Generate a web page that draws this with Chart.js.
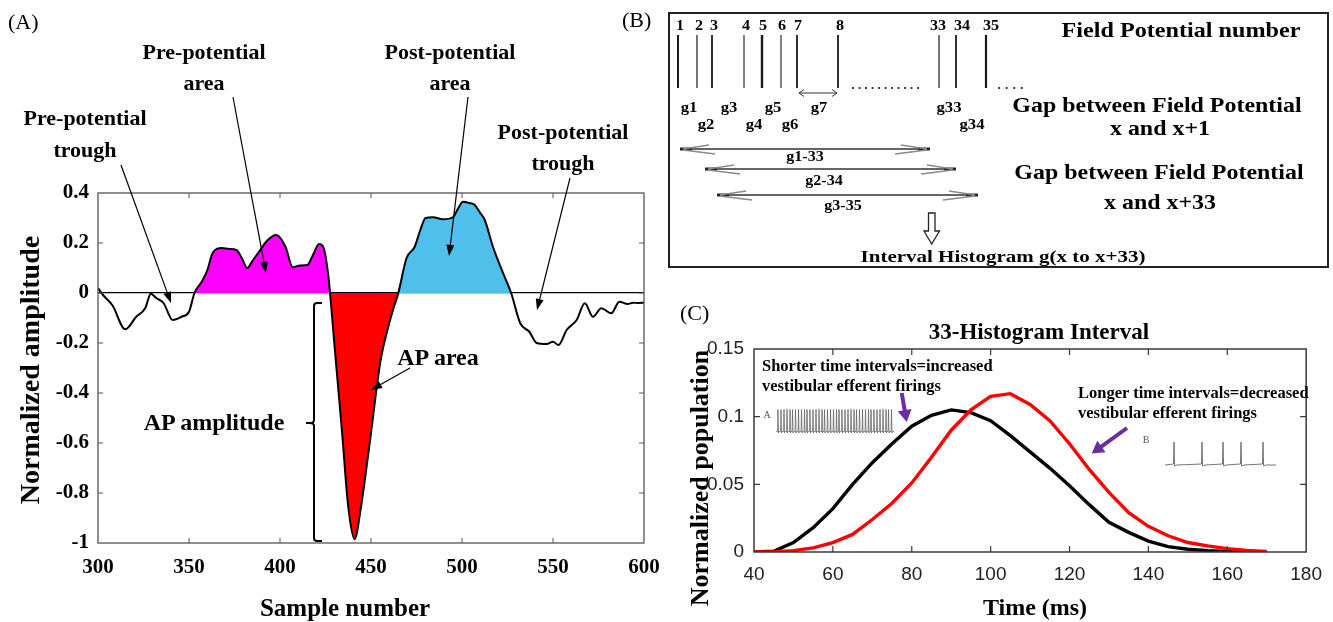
<!DOCTYPE html>
<html><head><meta charset="utf-8"><title>Field potential analysis</title>
<script src="https://cdn.jsdelivr.net/npm/chart.js@4.4.1/dist/chart.umd.min.js"></script>
<style>
html,body{margin:0;padding:0;background:#fff;}
#page{position:relative;width:1333px;height:622px;overflow:hidden;background:#fff;}
#page canvas{position:absolute;left:0;top:0;}
#overlay{position:absolute;left:0;top:0;}
.t{position:absolute;white-space:nowrap;font-family:"Liberation Serif","Times New Roman",serif;line-height:1;color:#000;}
#boxB{position:absolute;left:668px;top:12px;width:661px;height:256px;border:2.5px solid #222;box-sizing:border-box;}
</style></head>
<body><div id="page">
<div id="boxB"></div>
<canvas id="chartA" width="1333" height="622"></canvas>
<canvas id="chartB" width="1333" height="622"></canvas>
<canvas id="chartC" width="1333" height="622"></canvas>
<svg id="overlay" width="1333" height="622" xmlns="http://www.w3.org/2000/svg"></svg>
</div>
<script>
// ---------- Panel A data ----------
const apSamples = [300,303,308,315,321,326,329,332,336,341,346,350,353,357,360,363,368,372,376,379,382,385,388,393,398,403,407,411,415,418,421.5,424,426,427.5,430,434,437.5,441,444,449.5,455,459.5,462,465,469.5,474,477,480,484,489.5,495,498,500.5,504,507,510,512.5,517,523,527,532,537,541,546.5,550,553,557.5,563,567.5,572,576.5,582,586.5,591,594,597,600];
const apAmplitude = [0.02,-0.01,-0.05,-0.145,-0.095,-0.06,-0.003,-0.02,-0.04,-0.108,-0.095,-0.075,0,0.045,0.09,0.16,0.18,0.176,0.172,0.14,0.10,0.13,0.16,0.21,0.232,0.185,0.103,0.11,0.112,0.15,0.196,0.18,0.1,0,-0.215,-0.548,-0.855,-0.985,-0.88,-0.588,-0.281,-0.135,-0.07,0,0.139,0.185,0.25,0.30,0.303,0.295,0.303,0.34,0.365,0.36,0.352,0.32,0.292,0.185,0.072,0,-0.121,-0.155,-0.2,-0.204,-0.195,-0.208,-0.148,-0.108,-0.041,-0.095,-0.061,-0.081,-0.035,-0.044,-0.039,-0.04,-0.039];
const prePotentialSpan = [353, 427.5];
const apSpan = [427.5, 465];
const postPotentialSpan = [465, 527];
const aXTicks = [300,350,400,450,500,550,600];
const aYTicks = [-1,-0.8,-0.6,-0.4,-0.2,0,0.2,0.4];
const aYTickLabels = ['-1','-0.8','-0.6','-0.4','-0.2','0','0.2','0.4'];

// ---------- Panel B data ----------
const fieldPotentialNumbers = ['1','2','3','4','5','6','7','8','33','34','35'];
const fieldPotentialTimes = [9,28,43,75,93,112,128,169,270,287,317];
const gapLabels = ['g1','g2','g3','g4','g5','g6','g7','g33','g34'];
const gapPairs = [[0,1],[1,2],[2,3],[3,4],[4,5],[5,6],[6,7],[8,9],[9,10]];

// ---------- Panel C data ----------
const timeMs = [40,45,50,55,60,65,70,75,80,85,90,95,100,105,110,115,120,125,130,135,140,145,150,155,160,165,170];
const shorterIntervals = [0,0.0005,0.007,0.018,0.032,0.050,0.066,0.080,0.093,0.101,0.105,0.103,0.097,0.086,0.074,0.062,0.049,0.035,0.022,0.0145,0.008,0.004,0.002,0.001,0.0004,0.0001,0];
const longerIntervals = [0,0,0.001,0.003,0.007,0.013,0.024,0.036,0.051,0.070,0.090,0.105,0.115,0.117,0.109,0.097,0.080,0.061,0.044,0.029,0.019,0.012,0.007,0.0045,0.0025,0.0012,0.0004];
const cXTicks = [40,60,80,100,120,140,160,180];
const cYTicks = [0,0.05,0.1,0.15];
const cYTickLabels = ['0','0.05','0.1','0.15'];

// ---------- helpers ----------
const SERIF = '"Liberation Serif","Times New Roman",serif';
const SANS = '"Liberation Sans",Arial,sans-serif';
const page = document.getElementById('page');
function label(text, x, y, o = {}) {
  const d = document.createElement('div');
  d.className = 't';
  d.textContent = text;
  d.style.left = x + 'px'; d.style.top = y + 'px';
  d.style.fontSize = (o.size || 20) + 'px';
  d.style.fontWeight = o.bold === false ? 'normal' : 'bold';
  if (o.family) d.style.fontFamily = o.family;
  if (o.color) d.style.color = o.color;
  const ax = o.anchor === 'left' ? '0%' : o.anchor === 'right' ? '-100%' : '-50%';
  let tf = `translate(${ax},-50%)`;
  if (o.rotate) tf += ` rotate(${o.rotate}deg)`;
  if (o.sx) tf += ` scaleX(${o.sx})`;
  d.style.transform = tf;
  if (o.sx && o.anchor === 'left') d.style.transformOrigin = 'left center';
  page.appendChild(d);
}
const NS = 'http://www.w3.org/2000/svg';
const svg = document.getElementById('overlay');
function el(tag, attrs) {
  const e = document.createElementNS(NS, tag);
  for (const k in attrs) e.setAttribute(k, attrs[k]);
  svg.appendChild(e); return e;
}
function arrow(x1, y1, x2, y2, color, w, len, half) {
  const dx = x2 - x1, dy = y2 - y1, L = Math.hypot(dx, dy), ux = dx / L, uy = dy / L;
  const bx = x2 - ux * len, by = y2 - uy * len;
  el('line', {x1, y1, x2: bx + ux, y2: by + uy, stroke: color, 'stroke-width': w});
  el('polygon', {points: `${x2},${y2} ${bx - uy * half},${by + ux * half} ${bx + uy * half},${by - ux * half}`, fill: color});
}

const framePlugin = {
  id: 'frame',
  afterDraw(chart, args, opts) {
    if (!opts || !opts.on) return;
    const {ctx, chartArea: a} = chart;
    const x = chart.scales.x, y = chart.scales.y;
    ctx.save();
    ctx.strokeStyle = opts.color; ctx.lineWidth = opts.width;
    ctx.strokeRect(a.left, a.top, a.right - a.left, a.bottom - a.top);
    ctx.lineWidth = opts.tickWidth;
    const L = opts.len;
    ctx.beginPath();
    opts.xTicks.forEach(v => {
      const p = x.getPixelForValue(v);
      if (p <= a.left + 1 || p >= a.right - 1) return;
      ctx.moveTo(p, a.bottom); ctx.lineTo(p, a.bottom - L);
      ctx.moveTo(p, a.top); ctx.lineTo(p, a.top + L);
    });
    opts.yTicks.forEach(v => {
      const p = y.getPixelForValue(v);
      if (p <= a.top + 1 || p >= a.bottom - 1) return;
      ctx.moveTo(a.left, p); ctx.lineTo(a.left + L, p);
      ctx.moveTo(a.right, p); ctx.lineTo(a.right - L, p);
    });
    ctx.stroke();
    ctx.restore();
  }
};

// ---------- Chart A ----------
const apPoints = apSamples.map((s, i) => ({x: s, y: apAmplitude[i]}));
const inSpan = span => apPoints.filter(p => p.x >= span[0] && p.x <= span[1]);
const areaDs = (span, color) => ({
  data: inSpan(span), showLine: true, borderWidth: 0, borderColor: 'rgba(0,0,0,0)', backgroundColor: color, fill: 'origin',
  pointRadius: 0, cubicInterpolationMode: 'monotone', tension: 0.4
});
const chartA = new Chart(document.getElementById('chartA'), {
  type: 'scatter',
  data: {datasets: [
    {data: apPoints, showLine: true, borderColor: '#000', borderWidth: 2, pointRadius: 0, fill: false,
     cubicInterpolationMode: 'monotone', tension: 0.4},
    areaDs(prePotentialSpan, '#ff00ff'),
    areaDs(apSpan, '#ff0000'),
    areaDs(postPotentialSpan, '#4fc0ec')
  ]},
  options: {
    responsive: false, animation: false, events: [],
    layout: {padding: {left: 0, right: 689, top: 193, bottom: 0}},
    plugins: {legend: {display: false}, tooltip: {enabled: false},
      filler: {propagate: false},
      frame: {on: true, color: '#555', width: 1.3, tickWidth: 1, len: 5, xTicks: aXTicks, yTicks: aYTicks}},
    scales: {
      x: {type: 'linear', min: 300, max: 600,
        afterBuildTicks: s => { s.ticks = aXTicks.map(v => ({value: v})); },
        afterFit: s => { s.height = 79; },
        grid: {display: false, drawTicks: false}, border: {display: false},
        ticks: {autoSkip: false, maxRotation: 0, padding: 12, color: '#000',
          font: {family: SERIF, size: 21, weight: 'bold'}}},
      y: {type: 'linear', min: -1, max: 0.4,
        afterBuildTicks: s => { s.ticks = aYTicks.map(v => ({value: v})); },
        afterFit: s => { s.width = 98; },
        grid: {drawTicks: false, lineWidth: 1.2,
          color: c => (c.tick && c.tick.value === 0) ? '#000' : 'rgba(0,0,0,0)'},
        border: {display: false},
        ticks: {autoSkip: false, padding: 9, color: '#000',
          callback: (v, i) => aYTickLabels[i],
          font: {family: SERIF, size: 21, weight: 'bold'}}}
    }
  },
  plugins: [framePlugin]
});

// ---------- Chart B (field potential timeline) ----------
const fpThick = [2, 1.2, 1.8, 1.1, 2.4, 1.1, 1.8, 1.8, 1.2, 1.8, 2.2];
const fpLabelShift = [-2, -2, -2, -2, -3, -3, -3, -2, -9, -2, -3];
const gapRow = [0, 1, 0, 1, 0, 1, 0, 0, 1];
const chartB = new Chart(document.getElementById('chartB'), {
  type: 'scatter',
  data: {datasets: fieldPotentialTimes.map((t, i) => ({
    data: [{x: t, y: 0}, {x: t, y: 1}], showLine: true, borderColor: '#1a1a1a',
    borderWidth: fpThick[i], pointRadius: 0
  }))},
  options: {
    responsive: false, animation: false, events: [],
    layout: {padding: {left: 669, right: 4, top: 35, bottom: 534}},
    plugins: {legend: {display: false}, tooltip: {enabled: false}},
    scales: {x: {type: 'linear', min: 0, max: 660, display: false},
             y: {type: 'linear', min: 0, max: 1, display: false}}
  }
});

// ---------- Chart C ----------
const chartC = new Chart(document.getElementById('chartC'), {
  type: 'line',
  data: {labels: timeMs, datasets: [
    {label: 'Longer time intervals', data: timeMs.map((t, i) => ({x: t, y: longerIntervals[i]})),
     borderColor: '#ff0000', borderWidth: 3.4, pointRadius: 0, tension: 0, fill: false},
    {label: 'Shorter time intervals', data: timeMs.map((t, i) => ({x: t, y: shorterIntervals[i]})),
     borderColor: '#000', borderWidth: 3.4, pointRadius: 0, tension: 0, fill: false}
  ]},
  options: {
    responsive: false, animation: false, events: [],
    layout: {padding: {left: 694, right: 19, top: 349, bottom: 0}},
    plugins: {legend: {display: false}, tooltip: {enabled: false},
      frame: {on: true, color: '#3a3a3a', width: 1.5, tickWidth: 1.2, len: 6, xTicks: cXTicks, yTicks: cYTicks}},
    scales: {
      x: {type: 'linear', min: 40, max: 180,
        afterBuildTicks: s => { s.ticks = cXTicks.map(v => ({value: v})); },
        afterFit: s => { s.height = 70; },
        grid: {display: false, drawTicks: false}, border: {display: false},
        ticks: {autoSkip: false, maxRotation: 0, padding: 11, color: '#222',
          font: {family: SANS, size: 19}}},
      y: {type: 'linear', min: 0, max: 0.15,
        afterBuildTicks: s => { s.ticks = cYTicks.map(v => ({value: v})); },
        afterFit: s => { s.width = 60; },
        grid: {display: false, drawTicks: false}, border: {display: false},
        ticks: {autoSkip: false, padding: 10, color: '#222',
          callback: (v, i) => cYTickLabels[i],
          font: {family: SANS, size: 19}}}
    }
  },
  plugins: [framePlugin]
});

// ---------- Panel A annotations ----------
label('(A)', 8, 22, {size: 22, bold: false, anchor: 'left'});
label('Pre-potential', 204, 52, {size: 22}); label('area', 204, 83, {size: 22});
label('Post-potential', 450, 52, {size: 22}); label('area', 450, 83, {size: 22});
label('Pre-potential', 85, 118, {size: 22}); label('trough', 85, 150, {size: 22});
label('Post-potential', 563, 132, {size: 22}); label('trough', 563, 163, {size: 22});
label('AP area', 438, 357, {size: 24});
label('AP amplitude', 214, 422, {size: 24});
label('Normalized amplitude', 30, 370, {size: 28, rotate: -90});
label('Sample number', 345, 607, {size: 25});
arrow(121, 165, 171, 303, '#000', 1.2, 11, 4);
arrow(233, 97, 266, 273, '#000', 1.2, 11, 4);
arrow(468, 97, 449, 256, '#000', 1.2, 11, 4);
arrow(570, 178, 537, 310, '#000', 1.2, 11, 4);
arrow(410, 368, 371, 390, '#000', 1.2, 11, 4);
el('path', {d: 'M322,303 L317,303 Q314,303 314,306 L314,420 Q314,423 310,423 L306,423 M310,423 Q314,423 314,426 L314,538 Q314,541 317,541 L322,541',
  fill: 'none', stroke: '#000', 'stroke-width': 2});

// ---------- Panel B annotations ----------
label('(B)', 622, 20, {size: 22, bold: false, anchor: 'left'});
const bx = chartB.scales.x;
fieldPotentialNumbers.forEach((n, i) => label(n, bx.getPixelForValue(fieldPotentialTimes[i]) + fpLabelShift[i], 26, {size: 14, sx: 1.15, anchor: 'left'}));
gapLabels.forEach((g, i) => {
  const [a, b] = gapPairs[i];
  const mid = (bx.getPixelForValue(fieldPotentialTimes[a]) + bx.getPixelForValue(fieldPotentialTimes[b])) / 2;
  label(g, mid + 1, gapRow[i] === 0 ? 107 : 124, {size: 14.5, sx: 1.15});
});
label('Field Potential number', 1181, 30, {size: 21, sx: 1.15});
label('Gap between Field Potential', 1157, 105, {size: 21, sx: 1.14});
label('x and x+1', 1160, 128, {size: 21, sx: 1.14});
label('Gap between Field Potential', 1159, 172, {size: 21, sx: 1.14});
label('x and x+33', 1160, 202, {size: 21, sx: 1.14});
label('g1-33', 805, 157, {size: 14, sx: 1.15});
label('g2-34', 824, 181, {size: 14, sx: 1.15});
label('g3-35', 843, 206, {size: 14, sx: 1.15});
label('Interval Histogram g(x to x+33)', 1003, 257, {size: 17.5, sx: 1.2});
// dotted continuation
el('line', {x1: 853, y1: 88, x2: 922, y2: 88, stroke: '#222', 'stroke-width': 2.2, 'stroke-linecap': 'round', 'stroke-dasharray': '0.1 6.4'});
el('line', {x1: 999, y1: 88, x2: 1022, y2: 88, stroke: '#222', 'stroke-width': 2.2, 'stroke-linecap': 'round', 'stroke-dasharray': '0.1 7.5'});
// g7 double arrow
el('path', {d: 'M799,93 L837,93 M804,89.5 L799,93 L804,96.5 M832,89.5 L837,93 L832,96.5', fill: 'none', stroke: '#333', 'stroke-width': 1});
function harpoon(x0, x1, y) {
  el('line', {x1: x0, y1: y, x2: x1, y2: y, stroke: '#333', 'stroke-width': 1.4});
  el('line', {x1: x0, y1: y, x2: x0 + 12, y2: y, stroke: '#222', 'stroke-width': 3});
  el('line', {x1: x1 - 12, y1: y, x2: x1, y2: y, stroke: '#222', 'stroke-width': 3});
  el('path', {d: `M${x0 + 3},${y} L${x0 + 29},${y - 4} M${x0 + 3},${y + 1} L${x0 + 35},${y + 5} M${x1 - 3},${y} L${x1 - 29},${y - 4} M${x1 - 3},${y + 1} L${x1 - 35},${y + 5}`,
    fill: 'none', stroke: '#8a8a8a', 'stroke-width': 1.6});
}
harpoon(680, 930, 149);
harpoon(705, 956, 169);
harpoon(717, 978, 195);
el('polygon', {points: '928.5,213 935,213 935,231 939.5,231 931.7,244 924,231 928.5,231', fill: '#fff', stroke: '#222', 'stroke-width': 1.3});

// ---------- Panel C annotations ----------
label('(C)', 680, 313, {size: 22, bold: false, anchor: 'left'});
label('33-Histogram Interval', 1039, 331, {size: 23});
label('Shorter time intervals=increased', 762, 366, {size: 16.5, anchor: 'left'});
label('vestibular efferent firings', 762, 386, {size: 16.5, anchor: 'left'});
label('Longer time intervals=decreased', 1078, 393, {size: 16.5, anchor: 'left'});
label('vestibular efferent firings', 1078, 413, {size: 16.5, anchor: 'left'});
label('Time (ms)', 1035, 607, {size: 24});
label('Normalized population', 700, 478, {size: 26, rotate: -90});
label('A', 767, 415, {size: 10, bold: false, color: '#555'});
label('B', 1146, 440, {size: 10, bold: false, color: '#555'});
arrow(901.7, 393, 906.7, 422, '#6a2ca0', 4, 12, 7);
arrow(1127, 428, 1091.7, 453.5, '#6a2ca0', 4, 12, 7);
// inset spike traces
const spikesA = [778,781,784,787,790,792.5,795.5,798.5,801.5,804.5,807,810,813,816,819,822,824.5,827.5,830.5,833.5,836.5,839,842,845,848,851,854,856.5,859.5,862.5,865.5,868.5,871,874,877,880,883,886,888.5,891.5];
let dA = 'M776,431.5';
spikesA.forEach(s => { dA += ` L${s - 0.4},431.5 L${s},409.5 L${s + 0.5},433 L${s + 1.1},431.5`; });
dA += ' L894,431.5';
el('path', {d: dA, fill: 'none', stroke: '#666', 'stroke-width': 0.8});
const spikesB = [1174,1202,1223,1241,1263];
let dB = 'M1165,465';
spikesB.forEach(s => { dB += ` L${s - 0.5},464 L${s},442 L${s + 0.6},466 L${s + 3},465`; });
dB += ' L1276,465';
el('path', {d: dB, fill: 'none', stroke: '#666', 'stroke-width': 0.9});
</script>
</body></html>
